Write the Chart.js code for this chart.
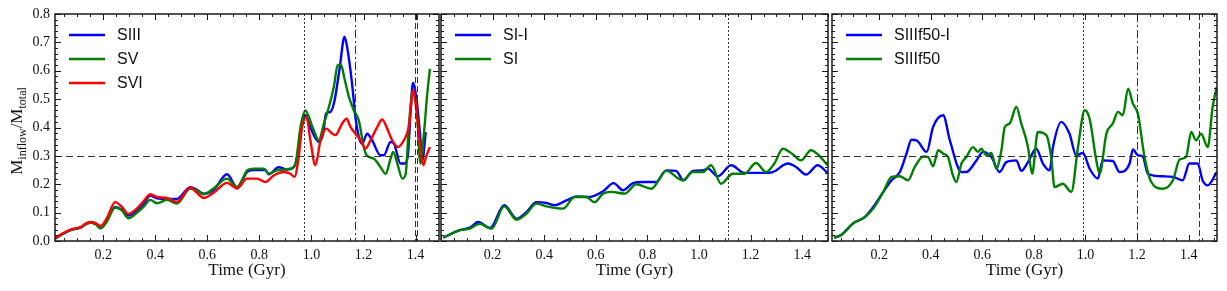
<!DOCTYPE html>
<html>
<head>
<meta charset="utf-8">
<title>Inflow mass fraction vs time</title>
<script src="https://cdn.jsdelivr.net/npm/chart.js@4.4.0/dist/chart.umd.min.js"></script>
<style>
  html, body { margin: 0; padding: 0; background: #fff; }
  #wrap { position: relative; width: 1227px; height: 291px; }
  #wrap canvas { position: absolute; left: 0; top: 0; }
</style>
</head>
<body>
<div id="wrap">
  <canvas id="panel1" width="1227" height="291"></canvas>
  <canvas id="panel2" width="1227" height="291"></canvas>
  <canvas id="panel3" width="1227" height="291"></canvas>
</div>
<script>
// ---- data ----
const xTickValues = [0.2, 0.4, 0.6, 0.8, 1.0, 1.2, 1.4];
const yTickValues = [0.0, 0.1, 0.2, 0.3, 0.4, 0.5, 0.6, 0.7, 0.8];
const thresholdLevel = 0.3;

// panel 1
const siiiTime = [0.015, 0.047, 0.08, 0.112, 0.137, 0.155, 0.172, 0.19, 0.214, 0.246, 0.272, 0.297, 0.33, 0.355, 0.381, 0.406, 0.445, 0.483, 0.535, 0.56, 0.586, 0.624, 0.676, 0.714, 0.755, 0.778, 0.823, 0.836, 0.874, 0.906, 0.932, 0.945, 0.955, 0.971, 0.977, 0.996, 1.028, 1.045, 1.056, 1.073, 1.089, 1.109, 1.127, 1.137, 1.156, 1.169, 1.182, 1.195, 1.214, 1.233, 1.265, 1.278, 1.304, 1.317, 1.342, 1.358, 1.371, 1.381, 1.39, 1.404, 1.417, 1.426, 1.439];
const siiiVal = [0.008, 0.026, 0.04, 0.047, 0.062, 0.066, 0.06, 0.045, 0.072, 0.12, 0.11, 0.09, 0.107, 0.13, 0.16, 0.15, 0.148, 0.148, 0.19, 0.18, 0.167, 0.18, 0.235, 0.19, 0.245, 0.25, 0.25, 0.235, 0.26, 0.252, 0.26, 0.296, 0.355, 0.437, 0.443, 0.40, 0.35, 0.378, 0.449, 0.455, 0.496, 0.613, 0.72, 0.684, 0.555, 0.437, 0.367, 0.343, 0.378, 0.355, 0.302, 0.302, 0.349, 0.343, 0.273, 0.273, 0.308, 0.46, 0.557, 0.496, 0.378, 0.284, 0.384];

const svTime = [0.015, 0.047, 0.08, 0.112, 0.137, 0.155, 0.172, 0.19, 0.214, 0.246, 0.272, 0.297, 0.33, 0.355, 0.381, 0.406, 0.445, 0.483, 0.535, 0.56, 0.586, 0.624, 0.676, 0.714, 0.755, 0.778, 0.817, 0.836, 0.868, 0.919, 0.939, 0.958, 0.977, 0.99, 1.009, 1.028, 1.048, 1.067, 1.086, 1.101, 1.114, 1.127, 1.144, 1.163, 1.182, 1.201, 1.212, 1.24, 1.265, 1.285, 1.304, 1.314, 1.33, 1.349, 1.362, 1.374, 1.39, 1.404, 1.419, 1.432, 1.445, 1.455];
const svVal = [0.008, 0.026, 0.04, 0.047, 0.06, 0.064, 0.058, 0.045, 0.068, 0.118, 0.108, 0.08, 0.1, 0.12, 0.145, 0.133, 0.145, 0.132, 0.185, 0.178, 0.165, 0.185, 0.22, 0.19, 0.25, 0.255, 0.255, 0.237, 0.249, 0.255, 0.273, 0.402, 0.46, 0.437, 0.39, 0.355, 0.414, 0.472, 0.543, 0.62, 0.62, 0.572, 0.508, 0.46, 0.425, 0.331, 0.302, 0.29, 0.261, 0.237, 0.29, 0.314, 0.273, 0.22, 0.237, 0.402, 0.531, 0.472, 0.273, 0.378, 0.519, 0.607];

const sviTime = [0.015, 0.047, 0.08, 0.112, 0.137, 0.155, 0.172, 0.19, 0.214, 0.246, 0.272, 0.297, 0.33, 0.355, 0.381, 0.406, 0.445, 0.483, 0.535, 0.56, 0.586, 0.624, 0.676, 0.714, 0.753, 0.791, 0.823, 0.855, 0.894, 0.919, 0.935, 0.951, 0.964, 0.981, 0.996, 1.015, 1.035, 1.058, 1.073, 1.092, 1.118, 1.135, 1.15, 1.169, 1.189, 1.208, 1.227, 1.253, 1.272, 1.291, 1.31, 1.332, 1.355, 1.374, 1.391, 1.406, 1.419, 1.43, 1.44, 1.455];
const sviVal = [0.01, 0.028, 0.042, 0.048, 0.063, 0.067, 0.062, 0.053, 0.08, 0.137, 0.12, 0.095, 0.115, 0.14, 0.165, 0.155, 0.152, 0.138, 0.188, 0.17, 0.152, 0.17, 0.205, 0.185, 0.22, 0.22, 0.208, 0.231, 0.243, 0.237, 0.226, 0.296, 0.402, 0.437, 0.355, 0.267, 0.355, 0.396, 0.384, 0.373, 0.414, 0.431, 0.402, 0.378, 0.355, 0.326, 0.355, 0.402, 0.428, 0.396, 0.355, 0.331, 0.355, 0.402, 0.531, 0.437, 0.32, 0.267, 0.296, 0.331];

// panel 2
const siITime = [0.009, 0.073, 0.112, 0.144, 0.19, 0.245, 0.293, 0.331, 0.37, 0.409, 0.441, 0.486, 0.525, 0.576, 0.628, 0.669, 0.705, 0.744, 0.783, 0.834, 0.873, 0.911, 0.94, 0.976, 1.015, 1.034, 1.073, 1.125, 1.176, 1.247, 1.286, 1.344, 1.376, 1.415, 1.46, 1.498];
const siIVal = [0.012, 0.038, 0.047, 0.067, 0.046, 0.126, 0.079, 0.102, 0.137, 0.134, 0.126, 0.143, 0.157, 0.155, 0.175, 0.204, 0.179, 0.204, 0.208, 0.208, 0.249, 0.247, 0.214, 0.247, 0.249, 0.255, 0.228, 0.267, 0.24, 0.24, 0.243, 0.273, 0.261, 0.234, 0.267, 0.24];

const siTime = [0.009, 0.073, 0.112, 0.15, 0.196, 0.245, 0.293, 0.331, 0.37, 0.409, 0.473, 0.518, 0.563, 0.595, 0.628, 0.66, 0.712, 0.757, 0.815, 0.873, 0.937, 0.976, 1.015, 1.047, 1.085, 1.131, 1.176, 1.221, 1.26, 1.292, 1.325, 1.363, 1.395, 1.434, 1.46, 1.498];
const siVal = [0.012, 0.038, 0.044, 0.061, 0.043, 0.122, 0.075, 0.096, 0.132, 0.122, 0.114, 0.155, 0.155, 0.137, 0.167, 0.173, 0.167, 0.2, 0.184, 0.247, 0.214, 0.243, 0.243, 0.267, 0.202, 0.237, 0.237, 0.275, 0.243, 0.273, 0.325, 0.306, 0.284, 0.32, 0.306, 0.267];

// panel 3
const f50ITime = [0.025, 0.051, 0.1, 0.145, 0.177, 0.216, 0.248, 0.28, 0.306, 0.325, 0.345, 0.384, 0.409, 0.448, 0.474, 0.519, 0.538, 0.577, 0.603, 0.635, 0.667, 0.693, 0.732, 0.751, 0.777, 0.809, 0.835, 0.861, 0.874, 0.906, 0.938, 0.964, 0.99, 1.016, 1.048, 1.067, 1.106, 1.132, 1.171, 1.184, 1.203, 1.222, 1.242, 1.3, 1.339, 1.377, 1.403, 1.435, 1.454, 1.474, 1.509];
const f50IVal = [0.012, 0.02, 0.063, 0.085, 0.12, 0.173, 0.214, 0.243, 0.308, 0.357, 0.355, 0.314, 0.402, 0.443, 0.355, 0.243, 0.243, 0.284, 0.314, 0.296, 0.243, 0.278, 0.284, 0.247, 0.278, 0.325, 0.273, 0.249, 0.331, 0.42, 0.378, 0.302, 0.31, 0.255, 0.22, 0.284, 0.282, 0.243, 0.273, 0.323, 0.302, 0.298, 0.237, 0.228, 0.226, 0.214, 0.273, 0.273, 0.214, 0.196, 0.243];

const f50Time = [0.025, 0.051, 0.1, 0.145, 0.177, 0.216, 0.248, 0.28, 0.312, 0.338, 0.371, 0.39, 0.409, 0.429, 0.448, 0.467, 0.484, 0.499, 0.519, 0.538, 0.564, 0.583, 0.596, 0.616, 0.635, 0.654, 0.674, 0.687, 0.706, 0.732, 0.751, 0.777, 0.793, 0.815, 0.848, 0.867, 0.88, 0.912, 0.945, 0.971, 0.997, 1.016, 1.042, 1.055, 1.081, 1.106, 1.126, 1.145, 1.165, 1.184, 1.203, 1.229, 1.255, 1.3, 1.339, 1.365, 1.39, 1.41, 1.429, 1.448, 1.474, 1.493, 1.509];
const f50Val = [0.012, 0.02, 0.063, 0.085, 0.114, 0.173, 0.226, 0.228, 0.214, 0.261, 0.298, 0.296, 0.263, 0.32, 0.308, 0.296, 0.237, 0.208, 0.273, 0.296, 0.331, 0.314, 0.325, 0.302, 0.31, 0.255, 0.32, 0.402, 0.414, 0.472, 0.414, 0.331, 0.237, 0.384, 0.373, 0.296, 0.19, 0.202, 0.173, 0.331, 0.461, 0.431, 0.284, 0.237, 0.378, 0.414, 0.455, 0.443, 0.537, 0.484, 0.449, 0.296, 0.208, 0.184, 0.214, 0.287, 0.296, 0.384, 0.355, 0.378, 0.331, 0.472, 0.543];

// vertical event markers per panel
const panel1Marks = [0.973, 1.169, 1.396, 1.407];
const panel1MarkStyles = ['dotted', 'dashdot', 'dashed', 'dashed'];
const panel2Marks = [1.114];
const panel2MarkStyles = ['dotted'];
const panel3Marks = [0.99, 1.198, 1.439];
const panel3MarkStyles = ['dotted', 'dashdot', 'dashed'];

// ---- styling ----
const BLUE = '#0000ff', GREEN = '#008000', RED = '#ff0000';
const SERIF = '"Liberation Serif", "DejaVu Serif", serif';
const SANS = '"Liberation Sans", Arial, sans-serif';
const AXIS_COLOR = '#1a1a1a';
const dashes = { dotted: [2, 2], dashdot: [8, 3, 2, 3], dashed: [6, 3] };

function series(label, time, vals, color, order) {
  return {
    label: label,
    data: time.map((t, i) => ({ x: t, y: vals[i] })),
    borderColor: color,
    borderWidth: 2.4,
    pointRadius: 0,
    fill: false,
    cubicInterpolationMode: 'monotone',
    order: order
  };
}

function line(ctx, x1, y1, x2, y2) {
  ctx.beginPath();
  ctx.moveTo(x1, y1);
  ctx.lineTo(x2, y2);
  ctx.stroke();
}

// frame, inward ticks, marker lines, legend and axis titles
function makeDecor(p) {
  return {
    id: 'decor',
    afterDatasetsDraw(chart) {
      const ctx = chart.ctx;
      const a = chart.chartArea;
      const xs = chart.scales.x, ys = chart.scales.y;

      ctx.save();
      ctx.beginPath();
      ctx.rect(a.left, a.top, a.right - a.left, a.bottom - a.top);
      ctx.clip();
      ctx.strokeStyle = '#333';
      ctx.lineWidth = 1;
      ctx.setLineDash([7, 4]);
      const yt = Math.round(ys.getPixelForValue(thresholdLevel)) + 0.5;
      line(ctx, a.left, yt, a.right, yt);
      p.marks.forEach((t, i) => {
        ctx.setLineDash(dashes[p.markStyles[i]]);
        const x = Math.round(xs.getPixelForValue(t)) + 0.5;
        line(ctx, x, a.top, x, a.bottom);
      });
      ctx.restore();

      // ticks on all four sides, pointing in
      ctx.save();
      ctx.strokeStyle = AXIS_COLOR;
      ctx.lineWidth = 1;
      for (let k = 0; k <= 30; k++) {
        const v = k * 0.05;
        if (v < xs.min || v > xs.max) continue;
        const major = k % 4 === 0;
        const len = major ? 6 : 3;
        const x = Math.round(xs.getPixelForValue(v)) + 0.5;
        line(ctx, x, a.bottom, x, a.bottom - len);
        line(ctx, x, a.top, x, a.top + len);
      }
      for (let k = 0; k <= 40; k++) {
        const v = k * 0.02;
        const major = k % 5 === 0;
        const len = major ? 6 : 3;
        const y = Math.round(ys.getPixelForValue(v)) + 0.5;
        line(ctx, a.left, y, a.left + len, y);
        line(ctx, a.right, y, a.right - len, y);
      }
      ctx.lineWidth = 1.5;
      ctx.strokeRect(a.left, a.top, a.right - a.left, a.bottom - a.top);
      ctx.restore();

      // legend, top left inside the axes
      ctx.save();
      ctx.font = '16px ' + SANS;
      ctx.textBaseline = 'middle';
      ctx.fillStyle = '#111';
      chart.data.datasets.forEach((ds, i) => {
        const y = a.top + 21 + i * 24;
        ctx.strokeStyle = ds.borderColor;
        ctx.lineWidth = 2.6;
        line(ctx, a.left + 14, y, a.left + 50, y);
        ctx.fillText(ds.label, a.left + 62, y + 1);
      });
      ctx.restore();

      // x title
      ctx.save();
      ctx.font = '17px ' + SERIF;
      ctx.fillStyle = '#111';
      ctx.textAlign = 'center';
      ctx.textBaseline = 'middle';
      ctx.fillText('Time (Gyr)', (a.left + a.right) / 2, 271);
      ctx.restore();

      // y title with subscripts
      if (p.yTitle) {
        const parts = [
          { t: 'M', f: '17px ' + SERIF, dy: 0 },
          { t: 'inflow', f: '12px ' + SERIF, dy: 4 },
          { t: '/M', f: '17px ' + SERIF, dy: 0 },
          { t: 'total', f: '12px ' + SERIF, dy: 4 }
        ];
        ctx.save();
        ctx.fillStyle = '#111';
        ctx.textBaseline = 'alphabetic';
        let w = 0;
        parts.forEach(q => { ctx.font = q.f; q.w = ctx.measureText(q.t).width; w += q.w; });
        ctx.translate(22, 131);
        ctx.rotate(-Math.PI / 2);
        let x = -w / 2;
        parts.forEach(q => { ctx.font = q.f; ctx.fillText(q.t, x, q.dy); x += q.w; });
        ctx.restore();
      }
    }
  };
}

function makePanel(id, p) {
  return new Chart(document.getElementById(id), {
    type: 'line',
    data: { datasets: p.datasets },
    options: {
      responsive: false,
      animation: false,
      events: [],
      layout: { padding: { left: p.left, right: 1227 - p.right, top: 14, bottom: 0 } },
      plugins: { legend: { display: false }, tooltip: { enabled: false } },
      scales: {
        x: {
          type: 'linear',
          min: p.xMin,
          max: p.xMax,
          grid: { display: false, drawTicks: false },
          border: { display: false },
          ticks: {
            autoSkip: false,
            maxRotation: 0,
            padding: 6,
            color: '#111',
            font: { family: SERIF, size: 14 },
            callback: v => v.toFixed(1)
          },
          afterBuildTicks: s => { s.ticks = xTickValues.map(v => ({ value: v })); },
          afterFit: s => { s.height = 50; }
        },
        y: {
          type: 'linear',
          display: p.yTitle,
          min: 0,
          max: 0.8,
          grid: { display: false, drawTicks: false },
          border: { display: false },
          ticks: {
            padding: 5,
            color: '#111',
            font: { family: SERIF, size: 14 },
            callback: v => v.toFixed(1)
          },
          afterBuildTicks: s => { s.ticks = yTickValues.map(v => ({ value: v })); },
          afterFit: s => { s.width = p.yTitle ? 55 : 0; }
        }
      }
    },
    plugins: [makeDecor(p)]
  });
}

makePanel('panel1', {
  left: 0, right: 439, xMin: 0.015, xMax: 1.49, yTitle: true,
  marks: panel1Marks, markStyles: panel1MarkStyles,
  datasets: [
    series('SIII', siiiTime, siiiVal, BLUE, 2),
    series('SV', svTime, svVal, GREEN, 1),
    series('SVI', sviTime, sviVal, RED, 0)
  ]
});

makePanel('panel2', {
  left: 441, right: 828, xMin: 0.0, xMax: 1.5, yTitle: false,
  marks: panel2Marks, markStyles: panel2MarkStyles,
  datasets: [
    series('SI-I', siITime, siIVal, BLUE, 1),
    series('SI', siTime, siVal, GREEN, 0)
  ]
});

makePanel('panel3', {
  left: 832, right: 1217, xMin: 0.017, xMax: 1.51, yTitle: false,
  marks: panel3Marks, markStyles: panel3MarkStyles,
  datasets: [
    series('SIIIf50-I', f50ITime, f50IVal, BLUE, 1),
    series('SIIIf50', f50Time, f50Val, GREEN, 0)
  ]
});
</script>
</body>
</html>
